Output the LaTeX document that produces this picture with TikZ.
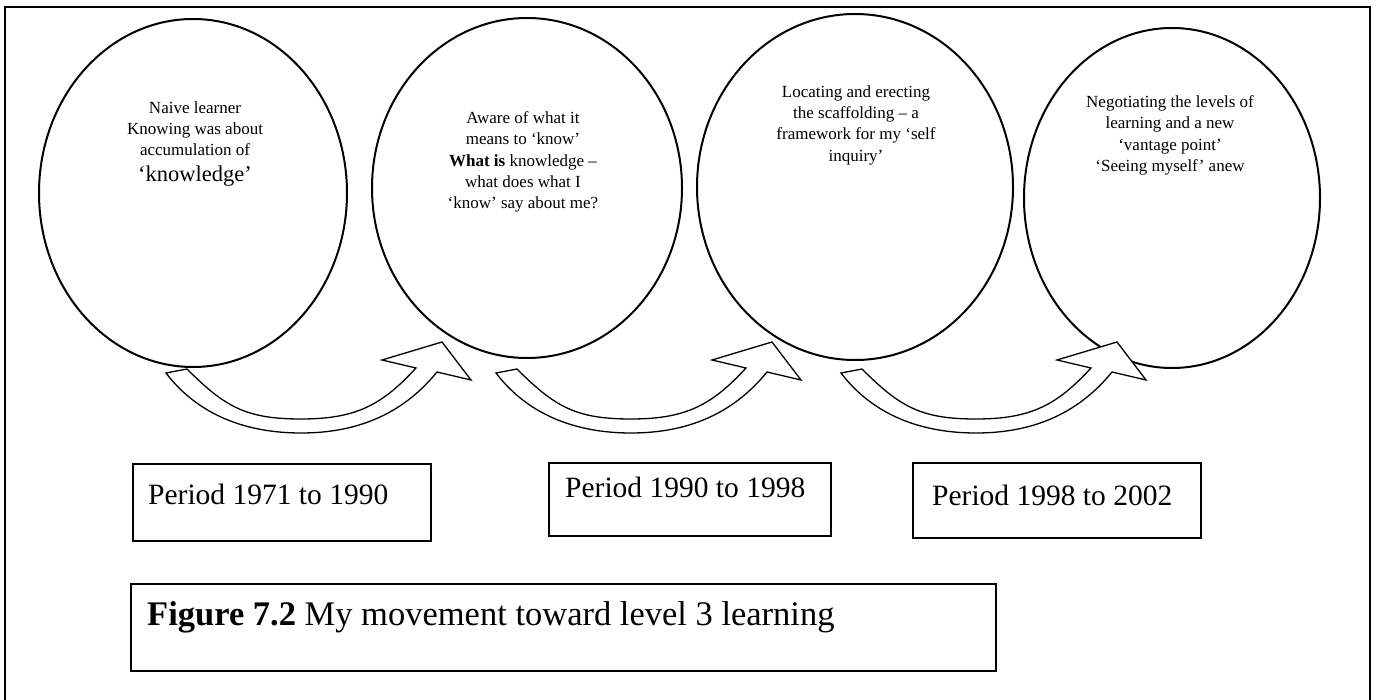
\documentclass[tikz,border=0pt]{standalone}
\usepackage{fontspec}
\setmainfont{Liberation Serif}
\usetikzlibrary{shapes.geometric}
\begin{document}
\begin{tikzpicture}[x=1pt,y=-1pt,
  ell/.style={draw,ellipse,line width=2pt,inner sep=0pt},
  blockarrow/.style={draw,line width=1.3pt,fill=white,line join=miter},
  pbox/.style={draw,line width=1.6pt,inner sep=0pt,anchor=north west},
  small/.style={align=center,inner sep=0pt,anchor=north,font=\fontsize{17}{21.3}\selectfont},
  ptext/.style={anchor=base west,inner sep=0pt,font=\fontsize{29.5}{31}\selectfont}]
\useasboundingbox (0,0) rectangle (1376,700);
% outer frame
\draw[line width=2pt] (5,720) -- (5,7) -- (1370,7) -- (1370,720);

% ellipses
\node[ell,minimum width=308pt,minimum height=348pt] (e1) at (193,193) {};
\node[ell,minimum width=310pt,minimum height=340pt] (e2) at (527,188) {};
\node[ell,minimum width=316pt,minimum height=346pt] (e3) at (855,187) {};
\node[ell,minimum width=296pt,minimum height=340pt] (e4) at (1172,198) {};

% texts inside the ellipses
\node[small] (t1) at (195,101.3) {Naive learner\\Knowing was about\\accumulation of\\[4.5pt]{\fontsize{22.5}{22.5}\selectfont ‘knowledge’}};
\node[small] (t2) at (523,111.3) {Aware of what it\\means to ‘know’\\\textbf{What is} knowledge –\\what does what I\\‘know’ say about me?};
\node[small] (t3) at (856,85.3) {Locating and erecting\\the scaffolding – a\\framework for my ‘self\\inquiry’};
\node[small] (t4) at (1170,95.3) {Negotiating the levels of\\learning and a new\\‘vantage point’\\‘Seeing myself’ anew};

% curved block arrows
\newcommand{\bendarrow}[1]{%
  \draw[blockarrow,xshift=#1pt] (166,373) -- (187,369)
    .. controls (225,407) and (246,419) .. (301,419)
    .. controls (356,419) and (382,405) .. (416,368)
    -- (382,360) -- (442,342) -- (471,380) -- (437,372)
    .. controls (402,415) and (356,433) .. (301,433)
    .. controls (246,433) and (198,415) .. cycle;}
\bendarrow{0}
\bendarrow{330}
\bendarrow{675}

% period boxes
\node[pbox,minimum width=298pt,minimum height=77pt] (b1) at (132,463) {};
\node[pbox,minimum width=282pt,minimum height=73pt] (b2) at (548,462) {};
\node[pbox,minimum width=288pt,minimum height=75pt] (b3) at (912,462) {};
\node[ptext] (p1) at (148,504) {Period 1971 to 1990};
\node[ptext] (p2) at (565,497) {Period 1990 to 1998};
\node[ptext] (p3) at (932,505) {Period 1998 to 2002};

% caption box
\node[pbox,minimum width=865pt,minimum height=87pt] (cap) at (130,583) {};
\node[anchor=base west,inner sep=0pt,font=\fontsize{34.5}{36}\selectfont] (capt) at (147,625) {\textbf{Figure 7.2} My movement toward level 3 learning};
\end{tikzpicture}
\end{document}
